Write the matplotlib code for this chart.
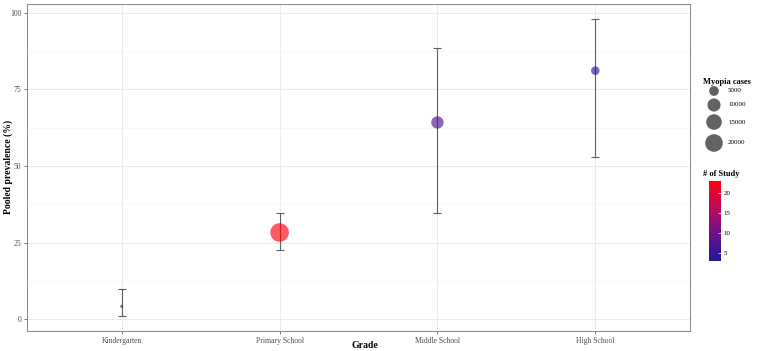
import numpy as np
import matplotlib
matplotlib.use("Agg")
import matplotlib.pyplot as plt
from matplotlib.colors import LinearSegmentedColormap, Normalize
from matplotlib.colorbar import ColorbarBase

plt.rcParams['font.family'] = ['Liberation Serif', 'DejaVu Serif']

grades = ['Kindergarten', 'Primary School', 'Middle School', 'High School']
prevalence = [4.2, 28.3, 64.2, 81.1]
ci_low = [1.0, 22.5, 34.5, 52.8]
ci_high = [9.8, 34.8, 88.6, 98.0]
cases = [1000, 22700, 8800, 3650]
n_study = [11, 23, 7, 3]

size_breaks = [5000, 10000, 15000, 20000]
study_ticks = [5, 10, 15, 20]
study_range = (3, 23)

cmap = LinearSegmentedColormap.from_list(
    'study', ['#22189a', '#6a108a', '#b80c5c', '#ff0010'])
norm = Normalize(*study_range)


def marker_area(v):
    # ggplot-like area scale: 1..6 mapped on sqrt of rescaled value
    v = np.asarray(v, dtype=float)
    lo, hi = min(cases), max(cases)
    r = np.clip((v - lo) / (hi - lo), 0, 1)
    d_px = 3.1 * (1 + 5 * np.sqrt(r))
    return (d_px * 0.72) ** 2


fig = plt.figure(figsize=(7.58, 3.51), dpi=100)
ax = fig.add_axes([27 / 758, 20 / 351, 663 / 758, 327 / 351])

x = np.arange(1, len(grades) + 1)
err = [np.array(prevalence) - np.array(ci_low), np.array(ci_high) - np.array(prevalence)]
ax.errorbar(x, prevalence, yerr=err, fmt='none', ecolor='#5e5e5e',
            elinewidth=0.8, capsize=3, capthick=0.8, zorder=2)
ax.scatter(x, prevalence, s=marker_area(cases), c=n_study, cmap=cmap, norm=norm,
           alpha=0.65, linewidths=0, zorder=3)

ax.set_xlim(0.4, 4.6)
ax.set_ylim(-3.85, 102.85)
ax.set_xticks(x)
ax.set_xticklabels(grades)
ax.set_yticks([0, 25, 50, 75, 100])
ax.set_yticks([12.5, 37.5, 62.5, 87.5], minor=True)
ax.grid(True, which='major', color='#ebebeb', linewidth=0.7)
ax.grid(True, which='minor', axis='y', color='#f4f4f4', linewidth=0.5)
ax.set_axisbelow(True)
ax.tick_params(axis='both', which='major', labelsize=5.5, labelcolor='#4d4d4d',
               color='#444444', length=2.5, width=0.5, pad=1.5)
ax.tick_params(axis='y', which='minor', length=0)
for s in ax.spines.values():
    s.set_color('#888888')
    s.set_linewidth(0.7)

fig.text(365 / 758, 1 - 346 / 351, 'Grade', fontsize=7, fontweight='bold',
         ha='center', va='center')
fig.text(8 / 758, 1 - 167 / 351, 'Pooled prevalence (%)', fontsize=7, fontweight='bold',
         ha='center', va='center', rotation=90)

# size legend
lg = fig.add_axes([0, 0, 1, 1], facecolor='none')
lg.set_xlim(0, 758)
lg.set_ylim(351, 0)
lg.axis('off')
lg.text(727, 82, 'Myopia cases', fontsize=6, fontweight='bold', ha='center', va='center')
rows_y = [91, 105, 122, 143]
lg.scatter([714] * 4, rows_y, s=marker_area(size_breaks), color='#636363', linewidths=0)
for yy, b in zip(rows_y, size_breaks):
    lg.text(728, yy, str(b), fontsize=5, va='center', ha='left')

lg.text(721, 174, '# of Study', fontsize=6, fontweight='bold', ha='center', va='center')
cax = fig.add_axes([709 / 758, (351 - 261) / 351, 12 / 758, 80 / 351])
cb = ColorbarBase(cax, cmap=cmap, norm=norm, orientation='vertical')
cb.set_ticks(study_ticks)
cb.outline.set_visible(False)
cax.tick_params(labelsize=5, length=2, width=0.5, color='white', pad=2)
cax.tick_params(axis='y', direction='in')

fig.savefig('out.png', dpi=100)
